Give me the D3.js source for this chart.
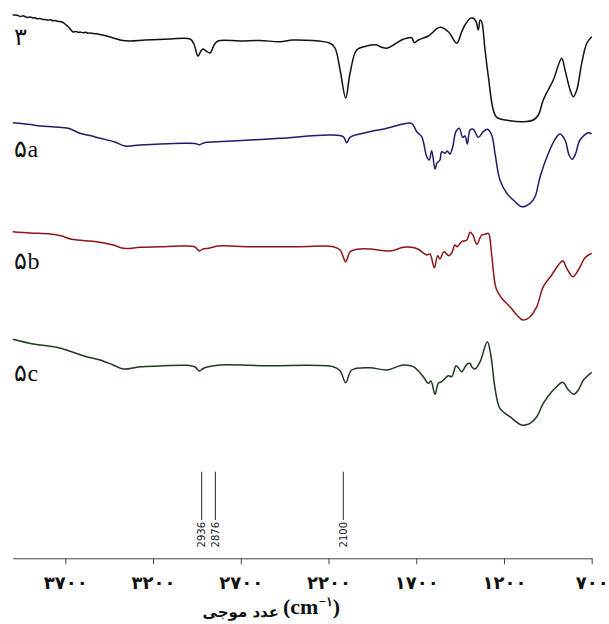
<!DOCTYPE html>
<html><head><meta charset="utf-8">
<script src="https://cdn.jsdelivr.net/npm/d3@7"></script>
<style>body{margin:0;background:#fff}svg{display:block}</style>
</head><body>
<svg id="c" width="609" height="624"></svg>
<script>
// ---- data (wavenumber cm-1, relative transmittance a.u.) ----
const names = ["۳", "۵a", "۵b", "۵c"];
const colors = ["#111111", "#1c1d6b", "#8e1616", "#1e3b1e"];

const wn3 = [4000,3975,3955,3940,3930,3915,3900,3885,3873,3860,3845,3830,3816,3800,3785,3770,3759,3740,3719,3705,3696,3685,3673,3665,3656,3640,3625,3616,3600,3585,3570,3560,3540,3520,3502,3445,3388,3331,3246,3103,2989,2967,2944,2927,2915,2898,2875,2852,2830,2704,2590,2476,2402,2191,2163,2134,2102,2077,2039,1982,1925,1897,1868,1821,1774,1726,1711,1688,1631,1565,1517,1469,1441,1422,1393,1375,1359,1346,1336,1327,1308,1289,1261,1241,1166,1090,1033,1004,976,919,871,852,823,805,785,757,728,700];
const t3 = [435,434.8,433.6,434.2,433.5,432.4,433.1,432,432.2,431.2,431.6,430.6,430.5,429.9,430.3,429.2,429.5,428.6,428,426.5,425,423.5,421,419.5,418,418.6,417.6,418,417.2,417.8,416.8,417,416.4,416.2,415.5,413,410,409,410,411,411,406,394,399,401,399,397,405,409,409,409.5,408.3,410,406.7,402,380,352,377,400,404,405,402.7,401.7,406,410.7,412.3,407.3,410,414,422.7,418.3,406.7,418.3,425,431.7,431.7,428.3,420,430,428.3,400,373.3,340,332.7,329.3,328.3,330,335,350,370,391.7,380,360,353.3,360,386.7,406.7,413.3];

const wn5a = [4000,3900,3844,3760,3683,3616,3560,3502,3417,3360,3274,3160,3029,2961,2936,2904,2837,2648,2476,2192,2116,2096,2077,2002,1964,1868,1774,1726,1697,1669,1640,1626,1612,1593,1583,1565,1555,1536,1523,1508,1492,1474,1455,1435,1422,1409,1393,1375,1346,1318,1295,1270,1251,1223,1184,1147,1099,1051,1023,994,947,909,881,852,829,811,791,767,719,700];
const t5a = [327.3,325.5,324,323,321.7,316.7,314.5,311.7,308,304,305,306,306.7,306.5,305.3,307.5,308.3,310,311.7,315,313.3,307.3,312.7,316.7,318.3,321.7,326,326.7,318.3,313.3,293.3,290,299.3,280.7,286.7,290,298.3,296.7,299,296,303.3,318.3,321.7,312.7,314,306,320,320.7,312.7,318.3,320.7,315,296.7,270,256.7,250,243.3,246.7,253.3,273.3,296.7,310.7,316,310,295,290.7,296.7,310,317.3,316];

const wn5b = [4000,3901,3787,3721,3664,3521,3427,3370,3274,3160,3028,2961,2936,2915,2885,2828,2648,2362,2173,2134,2102,2077,2039,1964,1850,1774,1726,1688,1640,1622,1597,1578,1565,1542,1514,1498,1480,1467,1441,1412,1393,1375,1355,1327,1308,1289,1270,1245,1213,1166,1127,1093,1051,1013,976,928,890,865,842,808,776,738,700];
const t5b = [218.3,217,216,214,210.7,208.3,205,201.7,202.7,203.3,204,203,199,201,201.7,204,203.3,203.3,203.3,200,188.3,198.3,200.7,201,199,202.7,202.7,200.7,195,196,182.3,194.3,191,198.3,194.3,196.7,205,203.3,208.3,210,217.7,214.3,205.7,215,215.7,216.7,195,161.7,151.7,143.3,135,130,133.3,143.3,163.3,175,185,189.3,181.7,173.3,180,192.3,196.7];

const wn5c = [4000,3883,3749,3664,3578,3502,3427,3370,3274,3160,3008,2961,2936,2915,2885,2818,2552,2173,2134,2102,2068,1964,1868,1774,1717,1660,1631,1616,1593,1574,1555,1517,1498,1473,1460,1441,1412,1393,1384,1365,1336,1295,1275,1251,1223,1166,1099,1051,1013,976,928,900,865,833,801,776,747,700];
const t5c = [110.7,106,102.7,98.3,93.3,90,85,81,83.3,84,84.7,83,79,81.5,83.3,85,84.3,83.3,79.3,67.3,80,82.3,80,85,83.3,73.3,66.7,69,55.7,66.7,68.3,74.3,73.3,84.3,82.3,78.3,85.7,86.7,83.3,81,88.3,108.3,95,61.7,41.7,33.3,25,26.7,33.3,46.7,58.3,63.3,67.7,60,55.7,60,70,77.7];

const labelLevels = [405, 293, 181, 69]; // series label positions (a.u.)

const tickValues = [3700, 3200, 2700, 2200, 1700, 1200, 700];
const tickLabels = ["۳۷۰۰", "۳۲۰۰", "۲۷۰۰", "۲۲۰۰", "۱۷۰۰", "۱۲۰۰", "۷۰۰"];

const markerPos = [2923, 2845, 2116];
const markerLabels = ["2936", "2876", "2100"];

const xTitleFa = "عدد موجی";

// ---- drawing ----
const svg = d3.select("#c");
const x = d3.scaleLinear().domain([4000, 700]).range([12.7, 591.7]);
const y = d3.scaleLinear().domain([0, 450]).range([450, 0]);

const series = [[wn3, t3], [wn5a, t5a], [wn5b, t5b], [wn5c, t5c]];
const line = d3.line().x(d => x(d[0])).y(d => y(d[1])).curve(d3.curveCatmullRom.alpha(0.5));

series.forEach(([w, t], i) => {
  const pts = w.map((v, k) => [v, t[k]]);
  svg.append("path").datum(pts).attr("d", line)
    .attr("fill", "none").attr("stroke", colors[i])
    .attr("stroke-width", 1.5).attr("stroke-linejoin", "round");
  svg.append("text").attr("x", x(3990)).attr("y", y(labelLevels[i]))
    .attr("font-family", "Liberation Serif, DejaVu Serif, serif")
    .attr("font-size", 24).attr("fill", "#111").text(names[i]);
});

// markers
markerPos.forEach((p, i) => {
  svg.append("line").attr("x1", x(p)).attr("x2", x(p))
    .attr("y1", 471.7).attr("y2", 520).attr("stroke", "#222").attr("stroke-width", 1);
  svg.append("text")
    .attr("transform", `translate(${x(p)},522) rotate(-90)`)
    .attr("text-anchor", "end").attr("dominant-baseline", "central")
    .attr("font-family", "DejaVu Sans, sans-serif").attr("font-size", 10)
    .attr("fill", "#222").text(markerLabels[i]);
});

// axis
const axis = d3.axisBottom(x).tickValues(tickValues)
  .tickFormat((d, i) => tickLabels[i]).tickSizeInner(6).tickSizeOuter(0).tickPadding(12);
const g = svg.append("g").attr("transform", "translate(0,558.3)").call(axis);
g.select(".domain").attr("stroke", "#444");
g.selectAll(".tick line").attr("stroke", "#444");
g.selectAll(".tick text").attr("font-family", "DejaVu Sans, sans-serif")
  .attr("font-weight", "bold").attr("font-size", 18).attr("fill", "#111");

// axis title
svg.append("text").attr("x", 279).attr("y", 617)
  .attr("text-anchor", "end").attr("font-family", "DejaVu Sans, sans-serif")
  .attr("font-weight", "bold").attr("font-size", 15).attr("fill", "#111").text(xTitleFa);
const tt = svg.append("text").attr("x", 283).attr("y", 614)
  .attr("text-anchor", "start").attr("font-family", "Liberation Serif, serif")
  .attr("font-weight", "bold").attr("font-size", 22).attr("fill", "#111");
tt.append("tspan").text("(cm");
tt.append("tspan").attr("dy", -8).attr("font-size", 13).text("−۱");
tt.append("tspan").attr("dy", 8).text(")");
</script>
</body></html>
